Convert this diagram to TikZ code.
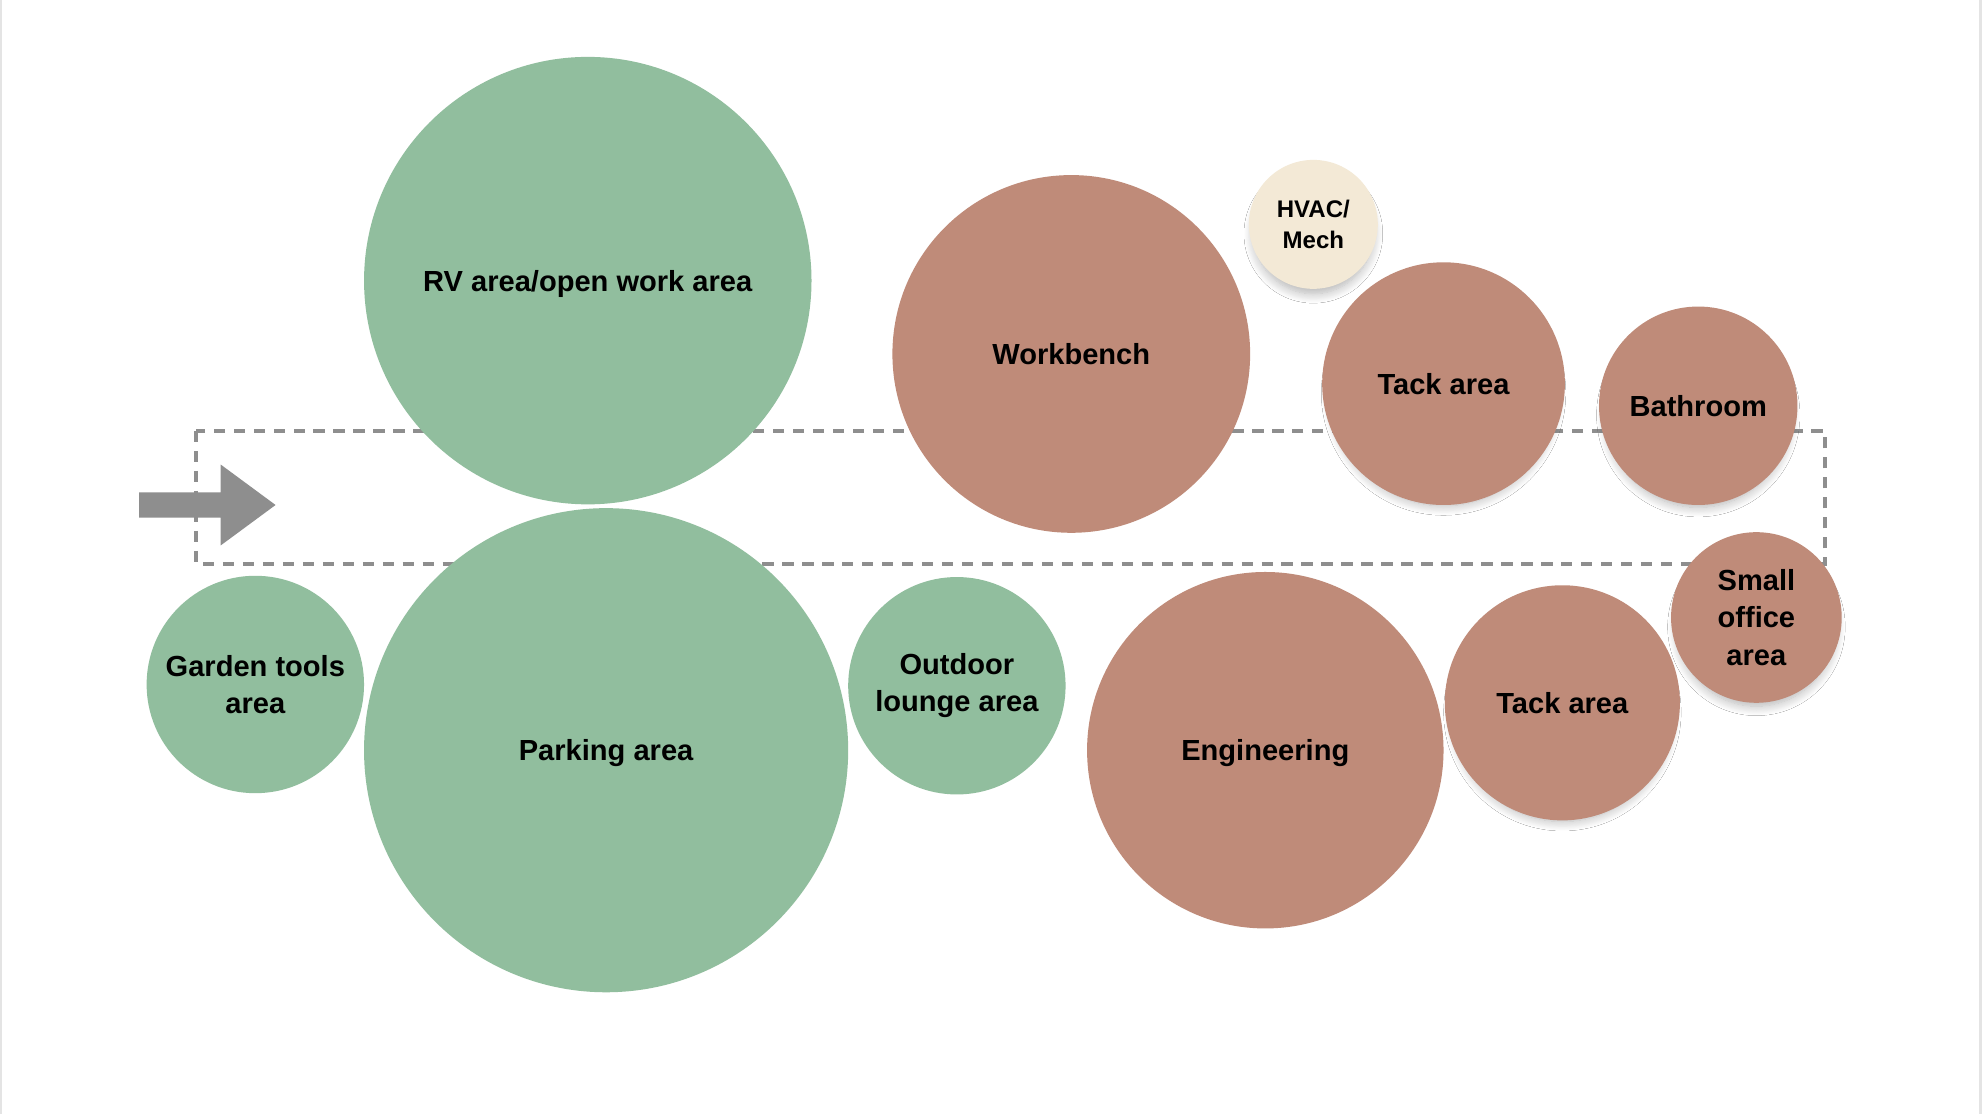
\documentclass[tikz,border=0pt]{standalone}
\usepackage{fontspec}
\setmainfont{Liberation Sans}
\usetikzlibrary{shadows.blur}
\definecolor{greenfill}{RGB}{145,190,158}
\definecolor{brownfill}{RGB}{191,139,121}
\definecolor{creamfill}{RGB}{243,233,214}
\definecolor{arrowgray}{RGB}{142,142,142}
\definecolor{edgegray}{RGB}{228,228,228}
\tikzset{
  room/.style={circle, inner sep=0pt, align=center, font=\fontsize{23}{29.5}\selectfont\bfseries, text=black},
  flatdepth/.style={text depth=0pt},
  softshadow/.style={blur shadow={shadow xshift=0pt, shadow yshift=-8pt, shadow scale=0.93, shadow blur radius=8pt, shadow blur steps=12, shadow opacity=30}},
  greenroom/.style={room, fill=greenfill},
  brownroom/.style={room, fill=brownfill},
  creamroom/.style={room, fill=creamfill, font=\fontsize{19}{24}\selectfont\bfseries},
  dashbox/.style={draw=arrowgray, line width=3.4pt, dash pattern=on 9pt off 6.8pt},
}
\begin{document}
\begin{tikzpicture}[x=1pt,y=-1pt]
\useasboundingbox (0,0) rectangle (1568,881.5);
\fill[white] (0,0) rectangle (1568,881.5);
% slide edges
\fill[edgegray] (0,0) rectangle (1.6,881.5);
\fill[edgegray] (1565.5,0) rectangle (1568,881.5);
% dashed zone
\draw[dashbox] (155,341) rectangle (1444,446);
% entry arrow
\fill[arrowgray] (110,389.5) -- (174.6,389.5) -- (174.6,367.5) -- (218,399.5) -- (174.6,431.5) -- (174.6,409.5) -- (110,409.5) -- cycle;
% green rooms
\node[greenroom, flatdepth, minimum size=354pt] (rv) at (465,222) {RV area/open work area};
\node[greenroom, flatdepth, minimum size=383pt] (parking) at (479.5,593.5) {Parking area};
\node[greenroom, minimum size=172pt] (garden) at (202,541.5) {Garden tools\\area};
\node[greenroom, minimum size=172pt] (lounge) at (757,542.5) {Outdoor\\lounge area};
% brown rooms
\node[brownroom, minimum size=283pt] (workbench) at (847.5,280) {Workbench};
\node[brownroom, flatdepth, minimum size=282pt] (engineering) at (1001,593.5) {Engineering};
\node[brownroom, softshadow, minimum size=192pt] (tacktop) at (1142,303.5) {Tack area};
\node[brownroom, softshadow, minimum size=186pt] (tackbottom) at (1236,556) {Tack area};
\node[brownroom, softshadow, minimum size=157pt] (bathroom) at (1343.5,321) {Bathroom};
\node[brownroom, softshadow, minimum size=135pt] (office) at (1389.5,488.5) {Small\\office\\area};
% cream
\node[creamroom, softshadow, minimum size=102pt] (hvac) at (1039,177.5) {HVAC/\\Mech};
\end{tikzpicture}
\end{document}
